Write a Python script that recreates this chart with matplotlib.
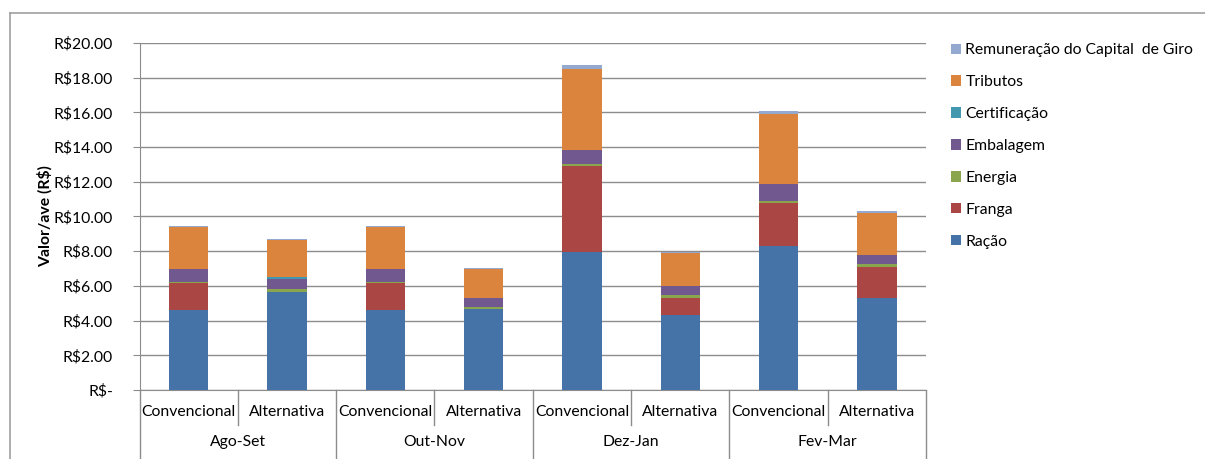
import numpy as np
import matplotlib
matplotlib.use("Agg")
import matplotlib.pyplot as plt
from matplotlib.lines import Line2D
from matplotlib.patches import Patch

plt.rcParams['font.family'] = ['Lato', 'DejaVu Sans']

# data
periods = ['Ago-Set', 'Out-Nov', 'Dez-Jan', 'Fev-Mar']
systems = ['Convencional', 'Alternativa']

racao = [4.61, 5.66, 4.61, 4.66, 7.96, 4.30, 8.31, 5.30]
franga = [1.53, 0.00, 1.53, 0.00, 4.95, 1.01, 2.49, 1.80]
energia = [0.10, 0.15, 0.10, 0.12, 0.10, 0.14, 0.10, 0.15]
embalagem = [0.73, 0.60, 0.73, 0.52, 0.82, 0.52, 0.96, 0.54]
certificacao = [0.00, 0.10, 0.00, 0.00, 0.00, 0.00, 0.00, 0.00]
tributos = [2.43, 2.13, 2.43, 1.67, 4.67, 1.90, 4.07, 2.40]
remuneracao = [0.06, 0.05, 0.06, 0.05, 0.23, 0.11, 0.15, 0.10]

series = [
    ('Ração', racao, '#4572A7'),
    ('Franga', franga, '#AA4643'),
    ('Energia', energia, '#89A54E'),
    ('Embalagem', embalagem, '#71588F'),
    ('Certificação', certificacao, '#4198AF'),
    ('Tributos', tributos, '#DB843D'),
    ('Remuneração do Capital  de Giro', remuneracao, '#93A9CF'),
]

FS = 11.3
W, H = 1205, 459
fig = plt.figure(figsize=(W / 100, H / 100), dpi=100)
ax = fig.add_axes([139.5 / W, 1 - 390 / H, (926 - 139.5) / W, (390 - 43) / H])

x = np.arange(len(racao))
bottom = np.zeros(len(racao))
handles = []
for name, vals, color in series:
    ax.bar(x, vals, width=0.4, bottom=bottom, color=color, zorder=3)
    bottom += np.array(vals)
    handles.append(Patch(facecolor=color, label=name))

grid_c = '#8c8c8c'
ax.set_xlim(-0.5, len(racao) - 0.5)
ax.set_ylim(0, 20)
ax.set_yticks(np.arange(0, 21, 2))
ax.set_yticklabels(['R$-'] + [f'R${v:.2f}' for v in np.arange(2, 21, 2)], fontsize=FS)
ax.yaxis.grid(True, color=grid_c, linewidth=1, zorder=0)
ax.tick_params(axis='y', length=5, color=grid_c, pad=14)
ax.set_xticks([])
for s in ['top', 'right']:
    ax.spines[s].set_visible(False)
for s in ['left', 'bottom']:
    ax.spines[s].set_color(grid_c)

# two-level category axis
tr = ax.get_xaxis_transform()
for i in range(len(racao) + 1):
    xb = i - 0.5
    low = -0.2 if i % 2 == 0 else -0.101
    ax.add_line(Line2D([xb, xb], [0, low], transform=tr, color=grid_c,
                       linewidth=1, clip_on=False))
for i in range(len(racao)):
    ax.text(i, -0.063, systems[i % 2], transform=tr, ha='center', va='center',
            fontsize=FS)
for j, p in enumerate(periods):
    ax.text(2 * j + 0.5, -0.15, p, transform=tr, ha='center', va='center',
            fontsize=FS)

fig.text(45 / W, 1 - 216.5 / H, 'Valor/ave (R$)', rotation=90, ha='center',
         va='center', fontsize=FS, fontweight='bold')

fig.legend(handles=handles[::-1], loc='upper left',
           bbox_to_anchor=(945 / W, 1 - 37 / H), frameon=False, fontsize=FS,
           handlelength=0.65, handleheight=0.65, handletextpad=0.25,
           labelspacing=1.14, borderaxespad=0)

# chart border
fig.add_artist(Line2D([10 / W, 1], [1 - 13 / H, 1 - 13 / H], color='#a0a0a0',
                      linewidth=1.2))
fig.add_artist(Line2D([10 / W, 10 / W], [0, 1 - 13 / H], color='#a0a0a0',
                      linewidth=1.2))

fig.savefig('out.png', dpi=100)
